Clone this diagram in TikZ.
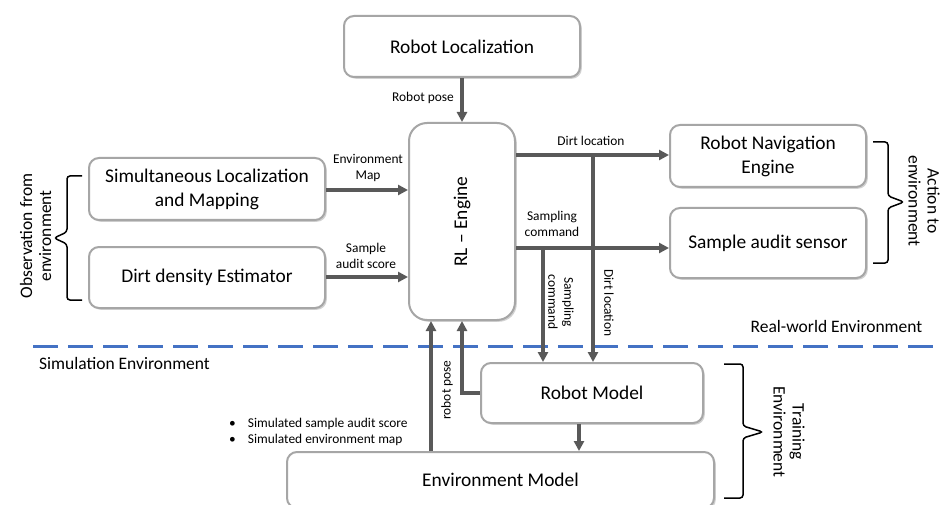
\documentclass[tikz,border=0pt]{standalone}
\usepackage{fontspec}
\setmainfont{Carlito}
\usetikzlibrary{arrows.meta,shadows}
\definecolor{boxline}{HTML}{A6A6A6}
\definecolor{arrgray}{HTML}{595959}
\definecolor{dashblue}{HTML}{4472C4}
\tikzset{
  blk/.style={draw=boxline, line width=2pt, rounded corners=10pt, fill=white,
    drop shadow={shadow xshift=1.8pt, shadow yshift=-1.8pt, opacity=0.35, fill=gray},
    inner sep=0pt, align=center, font=\fontsize{19.4}{24}\selectfont},
  arr/.style={draw=arrgray, line width=3.2pt, -{Triangle[length=10pt,width=10pt]}},
  lbl/.style={font=\fontsize{13.4}{16}\selectfont, align=center, inner sep=0pt},
  sidelbl/.style={font=\fontsize{17.5}{19}\selectfont, align=center, inner sep=0pt},
  brc/.style={draw=black, line width=1.5pt, rounded corners=3pt}
}
\begin{document}
\begin{tikzpicture}[x=1pt,y=-1pt]
\useasboundingbox (0,0) rectangle (942,505);
\clip (0,0) rectangle (942,505);
\fill[white] (0,0) rectangle (942,505);

% boxes
\node[blk, minimum width=236pt, minimum height=61pt] (loc) at (462,46.5) {Robot Localization};
\node[blk, rounded corners=18pt, minimum width=106pt, minimum height=197pt] (rl) at (462,221.5) {};
\node[rotate=90, font=\fontsize{19.4}{24}\selectfont] (rltext) at (rl.center) {RL -- Engine};
\node[blk, minimum width=236pt, minimum height=62pt] (slam) at (207,189) {Simultaneous Localization\\and Mapping};
\node[blk, minimum width=236pt, minimum height=61pt] (dirt) at (207,277.5) {Dirt density Estimator};
\node[blk, minimum width=196pt, minimum height=62pt] (nav) at (768,156) {Robot Navigation\\Engine};
\node[blk, minimum width=196pt, minimum height=70pt] (sensor) at (768,243) {Sample audit sensor};
\node[blk, minimum width=222pt, minimum height=60pt] (rmodel) at (592,393) {Robot Model};
\node[blk, minimum width=427pt, minimum height=56pt] (emodel) at (500.5,480) {Environment Model};

% dashed separator
\draw[dashblue, line width=3pt, dash pattern=on 25pt off 10pt] (33,346) -- (942,346);

% arrows
\draw[arr] (loc.south) -- (rl.north);
\draw[arr] (slam.east |- 0,190) -- (rl.west |- 0,190);
\draw[arr] (dirt.east |- 0,277) -- (rl.west |- 0,277);
\coordinate (dl0) at (rl.east |- 0,155);
\coordinate (sc0) at (rl.east |- 0,248);
\draw[arr] (dl0) -- (nav.west |- dl0);
\draw[arr] (sc0) -- (sensor.west |- sc0);
\coordinate (dlj) at (593,155);
\coordinate (scj) at (543,248);
\draw[arr] (dlj) -- (dlj |- rmodel.north);
\draw[arr] (scj) -- (scj |- rmodel.north);
\draw[arr] (rmodel.west) -| (rl.south);
\coordinate (em0) at (431,0);
\draw[arr] (em0 |- emodel.north) -- (em0 |- rl.south);
\coordinate (rm0) at (579,0);
\draw[arr] (rm0 |- rmodel.south) -- (rm0 |- emodel.north);

% arrow labels
\node[lbl] (lpose) at (423,98) {Robot pose};
\node[lbl] (lmap) at (368,168) {Environment\\Map};
\node[lbl] (lscore) at (366,255.5) {Sample\\audit score};
\node[lbl] (ldirt) at (591,141) {Dirt location};
\node[lbl] (lsamp) at (552,223.5) {Sampling\\command};
\node[lbl, rotate=-90] (lsampv) at (561,302) {Sampling\\command};
\node[lbl, rotate=-90] (ldirtv) at (609,303) {Dirt location};
\node[lbl, rotate=90] (lposev) at (447,390) {robot pose};
\node[lbl, align=left, anchor=west] (lsim) at (229,431.5) {\textbullet\hspace{12pt}Simulated sample audit score\\\textbullet\hspace{12pt}Simulated environment map};

% side labels
\node[sidelbl] (simenv) at (124.5,363) {Simulation Environment};
\node[sidelbl] (realenv) at (836.5,326) {Real-world Environment};
\node[sidelbl, rotate=90] (obs) at (35.5,236) {Observation from\\environment};
\node[sidelbl, rotate=-90] (act) at (924,201) {Action to\\environment};
\node[sidelbl, rotate=-90] (train) at (789,432) {Training\\Environment};

% braces
\draw[brc] (82,176) -- (67,176) -- (67,232) -- (54,238) -- (67,244) -- (67,300) -- (82,300);
\draw[brc] (873,142) -- (888,142) -- (888,196) -- (904,202) -- (888,208) -- (888,263) -- (873,263);
\draw[brc] (724,364) -- (743,364) -- (743,426) -- (763,432) -- (743,438) -- (743,498) -- (724,498);
\end{tikzpicture}
\end{document}
